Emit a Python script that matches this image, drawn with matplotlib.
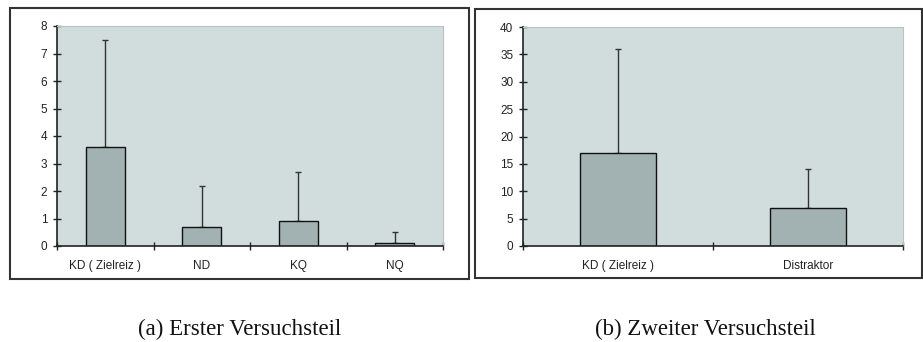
import numpy as np
import matplotlib.pyplot as plt
from matplotlib.patches import Rectangle

# first part of the experiment
cats_a = ['KD ( Zielreiz )', 'ND', 'KQ', 'NQ']
mean_a = [3.6, 0.7, 0.9, 0.1]
upper_a = [7.5, 2.2, 2.7, 0.5]

# second part of the experiment
cats_b = ['KD ( Zielreiz )', 'Distraktor']
mean_b = [17, 7]
upper_b = [36, 14]

bg = '#d1dddd'
barcol = '#a2b2b2'
W, H = 923.0, 342.0

fig = plt.figure(figsize=(9.23, 3.42), dpi=100)
plt.rcParams['font.family'] = ['Liberation Sans', 'DejaVu Sans']


def px(x0, y0, x1, y1):
    return [x0 / W, (H - y1) / H, (x1 - x0) / W, (y1 - y0) / H]


def panel(rect, cats, mean, upper, ymax, step):
    ax = fig.add_axes(rect)
    n = len(cats)
    x = np.arange(n)
    err = np.array(upper) - np.array(mean)
    ax.set_facecolor(bg)
    ax.bar(x, mean, width=0.4, color=barcol, edgecolor='#111111', linewidth=1.0, zorder=2)
    ax.errorbar(x, mean, yerr=[np.zeros(n), err], fmt='none', ecolor='#333333',
                elinewidth=1.0, capsize=2.5, capthick=1.0, zorder=1)
    ax.set_xlim(-0.5, n - 0.5)
    ax.set_ylim(0, ymax)
    ax.set_yticks(np.arange(0, ymax + step / 2, step))
    ax.set_xticks(np.arange(n + 1) - 0.5)
    ax.set_xticklabels([])
    ax.set_xticks(x, minor=True)
    ax.set_xticklabels(cats, minor=True)
    ax.tick_params(axis='x', which='major', direction='inout', length=6, width=1, color='#222222')
    ax.tick_params(axis='x', which='minor', length=0, pad=10, labelsize=8.5, labelcolor='#222222')
    ax.tick_params(axis='y', direction='inout', length=6, width=1, color='#222222',
                   labelsize=8.5, labelcolor='#222222', pad=4)
    for s in ['top', 'right']:
        ax.spines[s].set_color('#b8c4c4')
        ax.spines[s].set_linewidth(0.8)
    for s in ['left', 'bottom']:
        ax.spines[s].set_color('#222222')
        ax.spines[s].set_linewidth(1.2)
    return ax


panel(px(57, 26, 443, 246), cats_a, mean_a, upper_a, 8, 1)
panel(px(523, 27, 903, 246), cats_b, mean_b, upper_b, 40, 5)

# frames around the two panels
for x0, y0, x1, y1 in [(10, 8, 469, 279), (475, 9, 922, 278)]:
    fig.patches.append(Rectangle(((x0) / W, (H - y1) / H), (x1 - x0) / W, (y1 - y0) / H,
                                 transform=fig.transFigure, fill=False,
                                 edgecolor='#333333', linewidth=1.5))

fig.text(240 / W, 13 / H, '(a) Erster Versuchsteil', ha='center', va='center',
         family='Liberation Serif', fontsize=16.5, color='#111111')
fig.text(705 / W, 13 / H, '(b) Zweiter Versuchsteil', ha='center', va='center',
         family='Liberation Serif', fontsize=16.5, color='#111111')

fig.savefig('out.png', dpi=100)
